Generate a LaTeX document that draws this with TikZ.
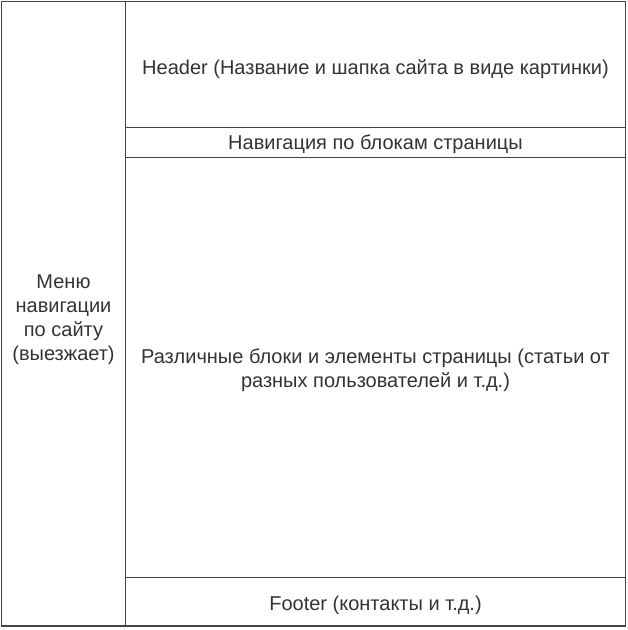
\documentclass[tikz,border=0pt]{standalone}
\usepackage{fontspec}
\setmainfont{Liberation Sans}
\definecolor{edgegray}{HTML}{444444}
\definecolor{textgray}{HTML}{333333}
% invisible strut to push a label down a little
\newcommand{\lift}[1]{\rule{0pt}{#1}}
\begin{document}
\begin{tikzpicture}[
        % Define styles for consistency
        x=1pt, y=-1pt,
        block/.style={draw=edgegray, line width=1.1pt, rectangle, inner sep=0pt, outer sep=0pt,
          align=center, text=textgray, font=\fontsize{20}{24}\selectfont},
    ]

        % --- Frame ---
        \useasboundingbox (0,0) rectangle (628,630);

        % Side menu
        \node[block, minimum width=124pt, minimum height=624.5pt] (menu) at (63.5,313.75)
            {\lift{25pt}Меню\\навигации\\по сайту\\(выезжает)};

        % --- Main column ---
        \node[block, minimum width=500pt, minimum height=126pt] (header) at (375.5,64.5)
            {\lift{24pt}Header (Название и шапка сайта в виде картинки)};
        \node[block, minimum width=500pt, minimum height=30pt] (navbar) at (375.5,142.5)
            {\lift{19pt}Навигация по блокам страницы};
        \node[block, minimum width=500pt, minimum height=420pt] (content) at (375.5,367.5)
            {\lift{21pt}Различные блоки и элементы страницы (статьи от\\разных пользователей и т.д.)};
        \node[block, minimum width=500pt, minimum height=48.5pt] (footer) at (375.5,601.75)
            {\lift{22pt}Footer (контакты и т.д.)};

    \end{tikzpicture}
\end{document}
